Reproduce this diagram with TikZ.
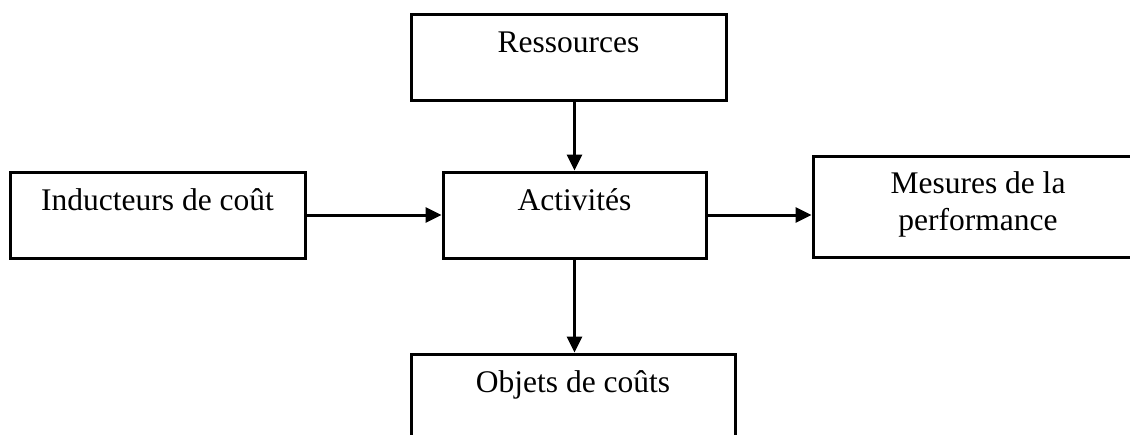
\documentclass[tikz,border=0pt]{standalone}
\usepackage{fontspec}
\setmainfont{Liberation Serif}
\usetikzlibrary{arrows.meta}
\begin{document}
\begin{tikzpicture}[x=1pt,y=-1pt,
  box/.style={draw=black, line width=3pt, fill=none, inner sep=0pt},
  txt/.style={anchor=base, inner sep=0pt, font=\fontsize{31.5}{37}\selectfont, align=center},
  flow/.style={line width=3pt, -{Triangle[length=16pt,width=15pt]}}]
  \useasboundingbox (0,0) rectangle (1130,434);
  \clip (0,0) rectangle (1130,434);

  % boxes
  \node[box, minimum width=315pt, minimum height=86pt] (res) at (568.5,57) {};
  \node[box, minimum width=295pt, minimum height=86pt] (ind) at (157.5,215) {};
  \node[box, minimum width=263pt, minimum height=86pt] (act) at (574.5,215) {};
  \node[box, minimum width=330pt, minimum height=101pt] (mes) at (978,206.5) {};
  \node[box, minimum width=324pt, minimum height=120pt] (obj) at (573,414) {};

  % labels (base anchor of a two-line label is its last line)
  \node[txt] (resT) at ([yshift=-40pt]res.north) {Ressources};
  \node[txt] (indT) at ([yshift=-40pt]ind.north) {Inducteurs de coût};
  \node[txt] (actT) at ([yshift=-40pt]act.north) {Activités};
  \node[txt] (mesT) at ([yshift=-76pt]mes.north) {Mesures de la\\performance};
  \node[txt] (objT) at ([yshift=-40pt]obj.north) {Objets de coûts};

  % connectors
  \draw[flow] (res.south -| act.north) -- (act.north);
  \draw[flow] (ind.east) -- (act.west);
  \draw[flow] (act.east) -- (mes.west |- act.east);
  \draw[flow] (act.south) -- (act.south |- obj.north);
\end{tikzpicture}
\end{document}
